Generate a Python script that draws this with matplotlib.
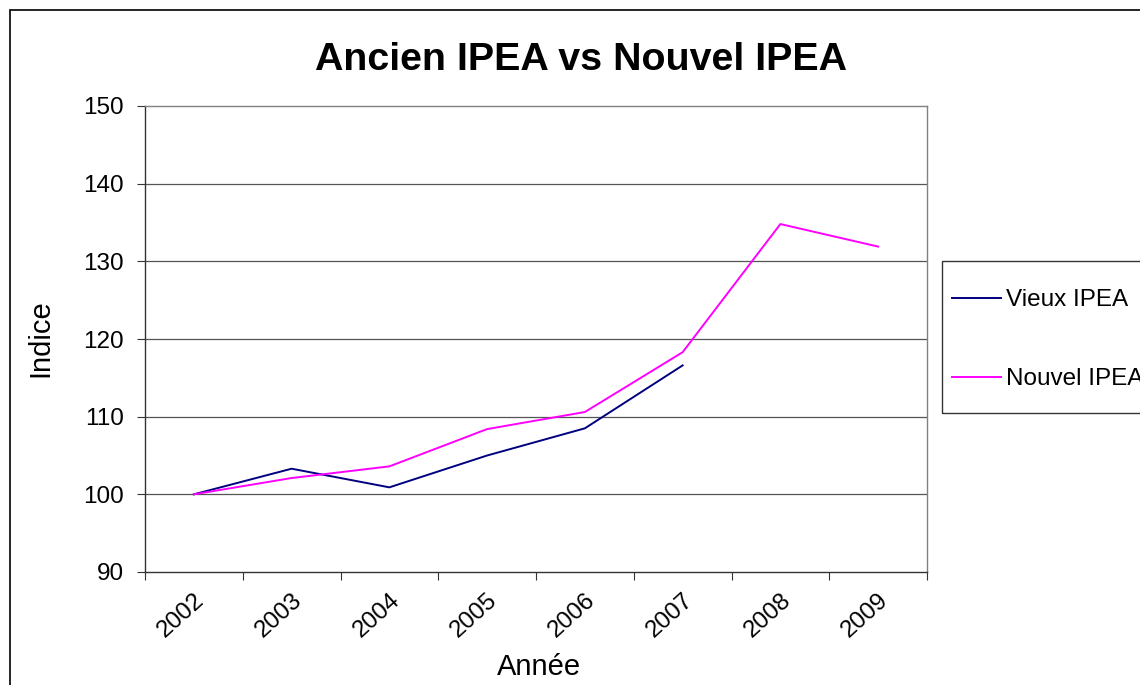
import matplotlib
matplotlib.use("Agg")
import matplotlib.pyplot as plt
from matplotlib.patches import Rectangle
import numpy as np

years = ["2002", "2003", "2004", "2005", "2006", "2007", "2008", "2009"]
vieux = [100.0, 103.3, 100.9, 105.0, 108.5, 116.6]
nouvel = [100.0, 102.1, 103.6, 108.4, 110.6, 118.3, 134.8, 131.9]
yticks = [90, 100, 110, 120, 130, 140, 150]

plt.rcParams['font.family'] = ['Liberation Sans', 'DejaVu Sans']

W, H = 1140, 685
fig = plt.figure(figsize=(W / 100, H / 100), dpi=100)
# outer chart border
fig.patches.append(Rectangle((10 / W, -0.1), 1.2, 1.1 - 10 / H, transform=fig.transFigure,
                             fill=False, edgecolor='black', linewidth=1.2))
# legend frame
fig.patches.append(Rectangle((942 / W, 1 - 413 / H), 0.3, 152 / H, transform=fig.transFigure,
                             fill=False, edgecolor='#333333', linewidth=1.0))

ax = fig.add_axes([145 / W, 1 - 572 / H, 782 / W, 466 / H])
x = np.arange(len(years))
ax.plot(x[:len(vieux)], vieux, color='#000080', linewidth=1.4, label='Vieux IPEA')
ax.plot(x, nouvel, color='#FF00FF', linewidth=1.4, label='Nouvel IPEA')

ax.set_xlim(-0.5, len(years) - 0.5)
ax.set_ylim(90, 150)
ax.set_yticks(yticks)
ax.set_yticklabels([str(v) for v in yticks], fontsize=17.5)
ax.set_xticks(np.arange(len(years) + 1) - 0.5)
ax.set_xticklabels([])
ax.set_xticks(x, minor=True)
ax.set_xticklabels(years, minor=True, rotation=42, fontsize=17.5,
                   ha='right', va='top', rotation_mode='anchor')
ax.tick_params(axis='x', which='minor', length=0, pad=12)
ax.tick_params(axis='x', which='major', length=6, direction='out', color='#333333')
ax.tick_params(axis='y', length=6, direction='out', color='#333333', pad=9)

for v in yticks[1:-1]:
    ax.axhline(v, color='#555555', linewidth=0.9, zorder=0)
for s in ['top', 'right']:
    ax.spines[s].set_color('#808080')
    ax.spines[s].set_linewidth(1.0)
for s in ['left', 'bottom']:
    ax.spines[s].set_color('#333333')
    ax.spines[s].set_linewidth(1.0)

fig.text(581 / W, 1 - 60 / H, 'Ancien IPEA vs Nouvel IPEA', fontsize=28.4,
         fontweight='bold', ha='center', va='center')
fig.text(40 / W, 1 - 338 / H, 'Indice', fontsize=21, rotation=90,
         ha='center', va='center')
fig.text(539 / W, 1 - 667 / H, 'Année', fontsize=21, ha='center', va='center')

leg = fig.legend(loc='upper left', bbox_to_anchor=(952 / W, 1 - 289 / H),
                 bbox_transform=fig.transFigure, fontsize=17.5, frameon=False,
                 handlelength=2.0, handletextpad=0.22, labelspacing=2.35,
                 borderpad=0, borderaxespad=0)

fig.savefig('out.png', dpi=100)
